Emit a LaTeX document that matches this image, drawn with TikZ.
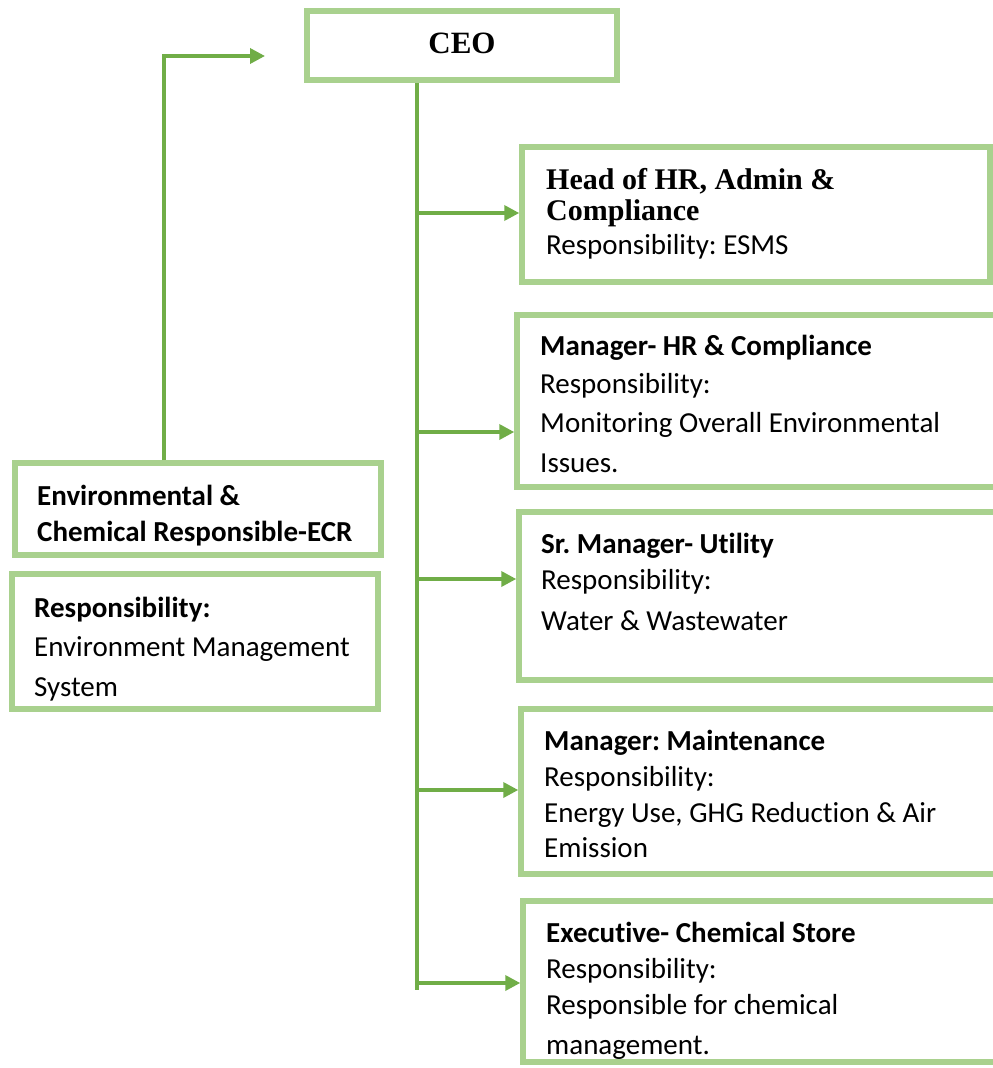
\documentclass[tikz,border=0pt]{standalone}
\usepackage{fontspec}
\setmainfont{Carlito}[Ligatures=NoCommon,RawFeature={-liga}]
\newfontfamily\tms{Liberation Serif}
\usetikzlibrary{arrows.meta}
\definecolor{boxgreen}{HTML}{A9D18E}
\definecolor{arrgreen}{HTML}{70AD47}
\frenchspacing
\begin{document}
\begin{tikzpicture}[x=1pt,y=-1pt,
  box/.style={draw=boxgreen,line width=5.5pt,rectangle,inner sep=0pt,fill=none},
  conn/.style={draw=arrgreen,line width=3.5pt},
  arr/.style={conn,-{Triangle[length=15pt,width=15pt]}},
  tl/.style={anchor=base west,inner sep=0pt,font=\fontsize{29}{35}\selectfont},
  tlb/.style={tl,font=\fontsize{29}{35}\selectfont\bfseries},
  tms/.style={anchor=base west,inner sep=0pt,font=\fontsize{30}{34}\selectfont\tms\bfseries}]
\useasboundingbox (0,0) rectangle (993,1068);
\clip (0,0) rectangle (993,1068);
\fill[white] (0,0) rectangle (993,1068);

% text lines
\node[anchor=base,inner sep=0pt,font=\fontsize{31}{36}\selectfont\tms\bfseries] (ceot) at (462,53) {CEO};

\node[tms] (t1a) at (546,189) {Head of HR, Admin \&};
\node[tms] (t1b) at (546,220) {Compliance};
\node[tl] (t1c) at (546,254) {Responsibility: ESMS};

\node[tlb] (t2a) at (540,355) {Manager- HR \& Compliance};
\node[tl] (t2b) at (540,393) {Responsibility:};
\node[tl] (t2c) at (540,432) {Monitoring Overall Environmental};
\node[tl] (t2d) at (540,472) {Issues.};

\node[tlb] (t3a) at (541,553) {Sr. Manager- Utility};
\node[tl] (t3b) at (541,589) {Responsibility:};
\node[tl] (t3c) at (541,630) {Water \& Wastewater};

\node[tlb] (t4a) at (544,750) {Manager: Maintenance};
\node[tl] (t4b) at (544,786) {Responsibility:};
\node[tl] (t4c) at (544,822) {Energy Use, GHG Reduction \& Air};
\node[tl] (t4d) at (544,857) {Emission};

\node[tlb] (t5a) at (546,942) {Executive- Chemical Store};
\node[tl] (t5b) at (546,978) {Responsibility:};
\node[tl] (t5c) at (546,1014) {Responsible for chemical};
\node[tl] (t5d) at (546,1054) {management.};

\node[tlb] (e1) at (37,505) {Environmental \&};
\node[tlb] (e2) at (37,541) {Chemical Responsible-ECR};

\node[tlb] (r1) at (34,617) {Responsibility:};
\node[tl] (r2) at (34,656) {Environment Management};
\node[tl] (r3) at (34,696) {System};

% boxes
\node[box,minimum width=310pt,minimum height=69pt] (ceo) at (462,45.5) {};
\node[box,minimum width=468pt,minimum height=135pt] (b1) at (756,214.5) {};
\node[box,minimum width=493pt,minimum height=172pt] (b2) at (763.5,401) {};
\node[box,minimum width=491pt,minimum height=168pt] (b3) at (764.5,596) {};
\node[box,minimum width=489pt,minimum height=165pt] (b4) at (765.5,791.5) {};
\node[box,minimum width=487pt,minimum height=161pt] (b5) at (766.5,981.5) {};
\node[box,minimum width=366pt,minimum height=92pt] (ecr) at (198,509) {};
\node[box,minimum width=366pt,minimum height=135pt] (resp) at (195,641.5) {};

% connectors
\coordinate (sp) at (417,990);
\draw[conn] (sp |- ceo.south) -- (sp);
\coordinate (s1) at (417,213);
\coordinate (s2) at (417,432);
\coordinate (s3) at (417,579);
\coordinate (s4) at (417,790);
\coordinate (s5) at (417,983);
\draw[arr] (s1) -- (s1 -| b1.west);
\draw[arr] (s2) -- (s2 -| b2.west);
\draw[arr] (s3) -- (s3 -| b3.west);
\draw[arr] (s4) -- (s4 -| b4.west);
\draw[arr] (s5) -- (s5 -| b5.west);

\coordinate (lc) at (164,56);
\coordinate (ceoin) at (265,56);
\draw[arr] (lc |- ecr.north) -- (lc) -- (ceoin);
\end{tikzpicture}
\end{document}
